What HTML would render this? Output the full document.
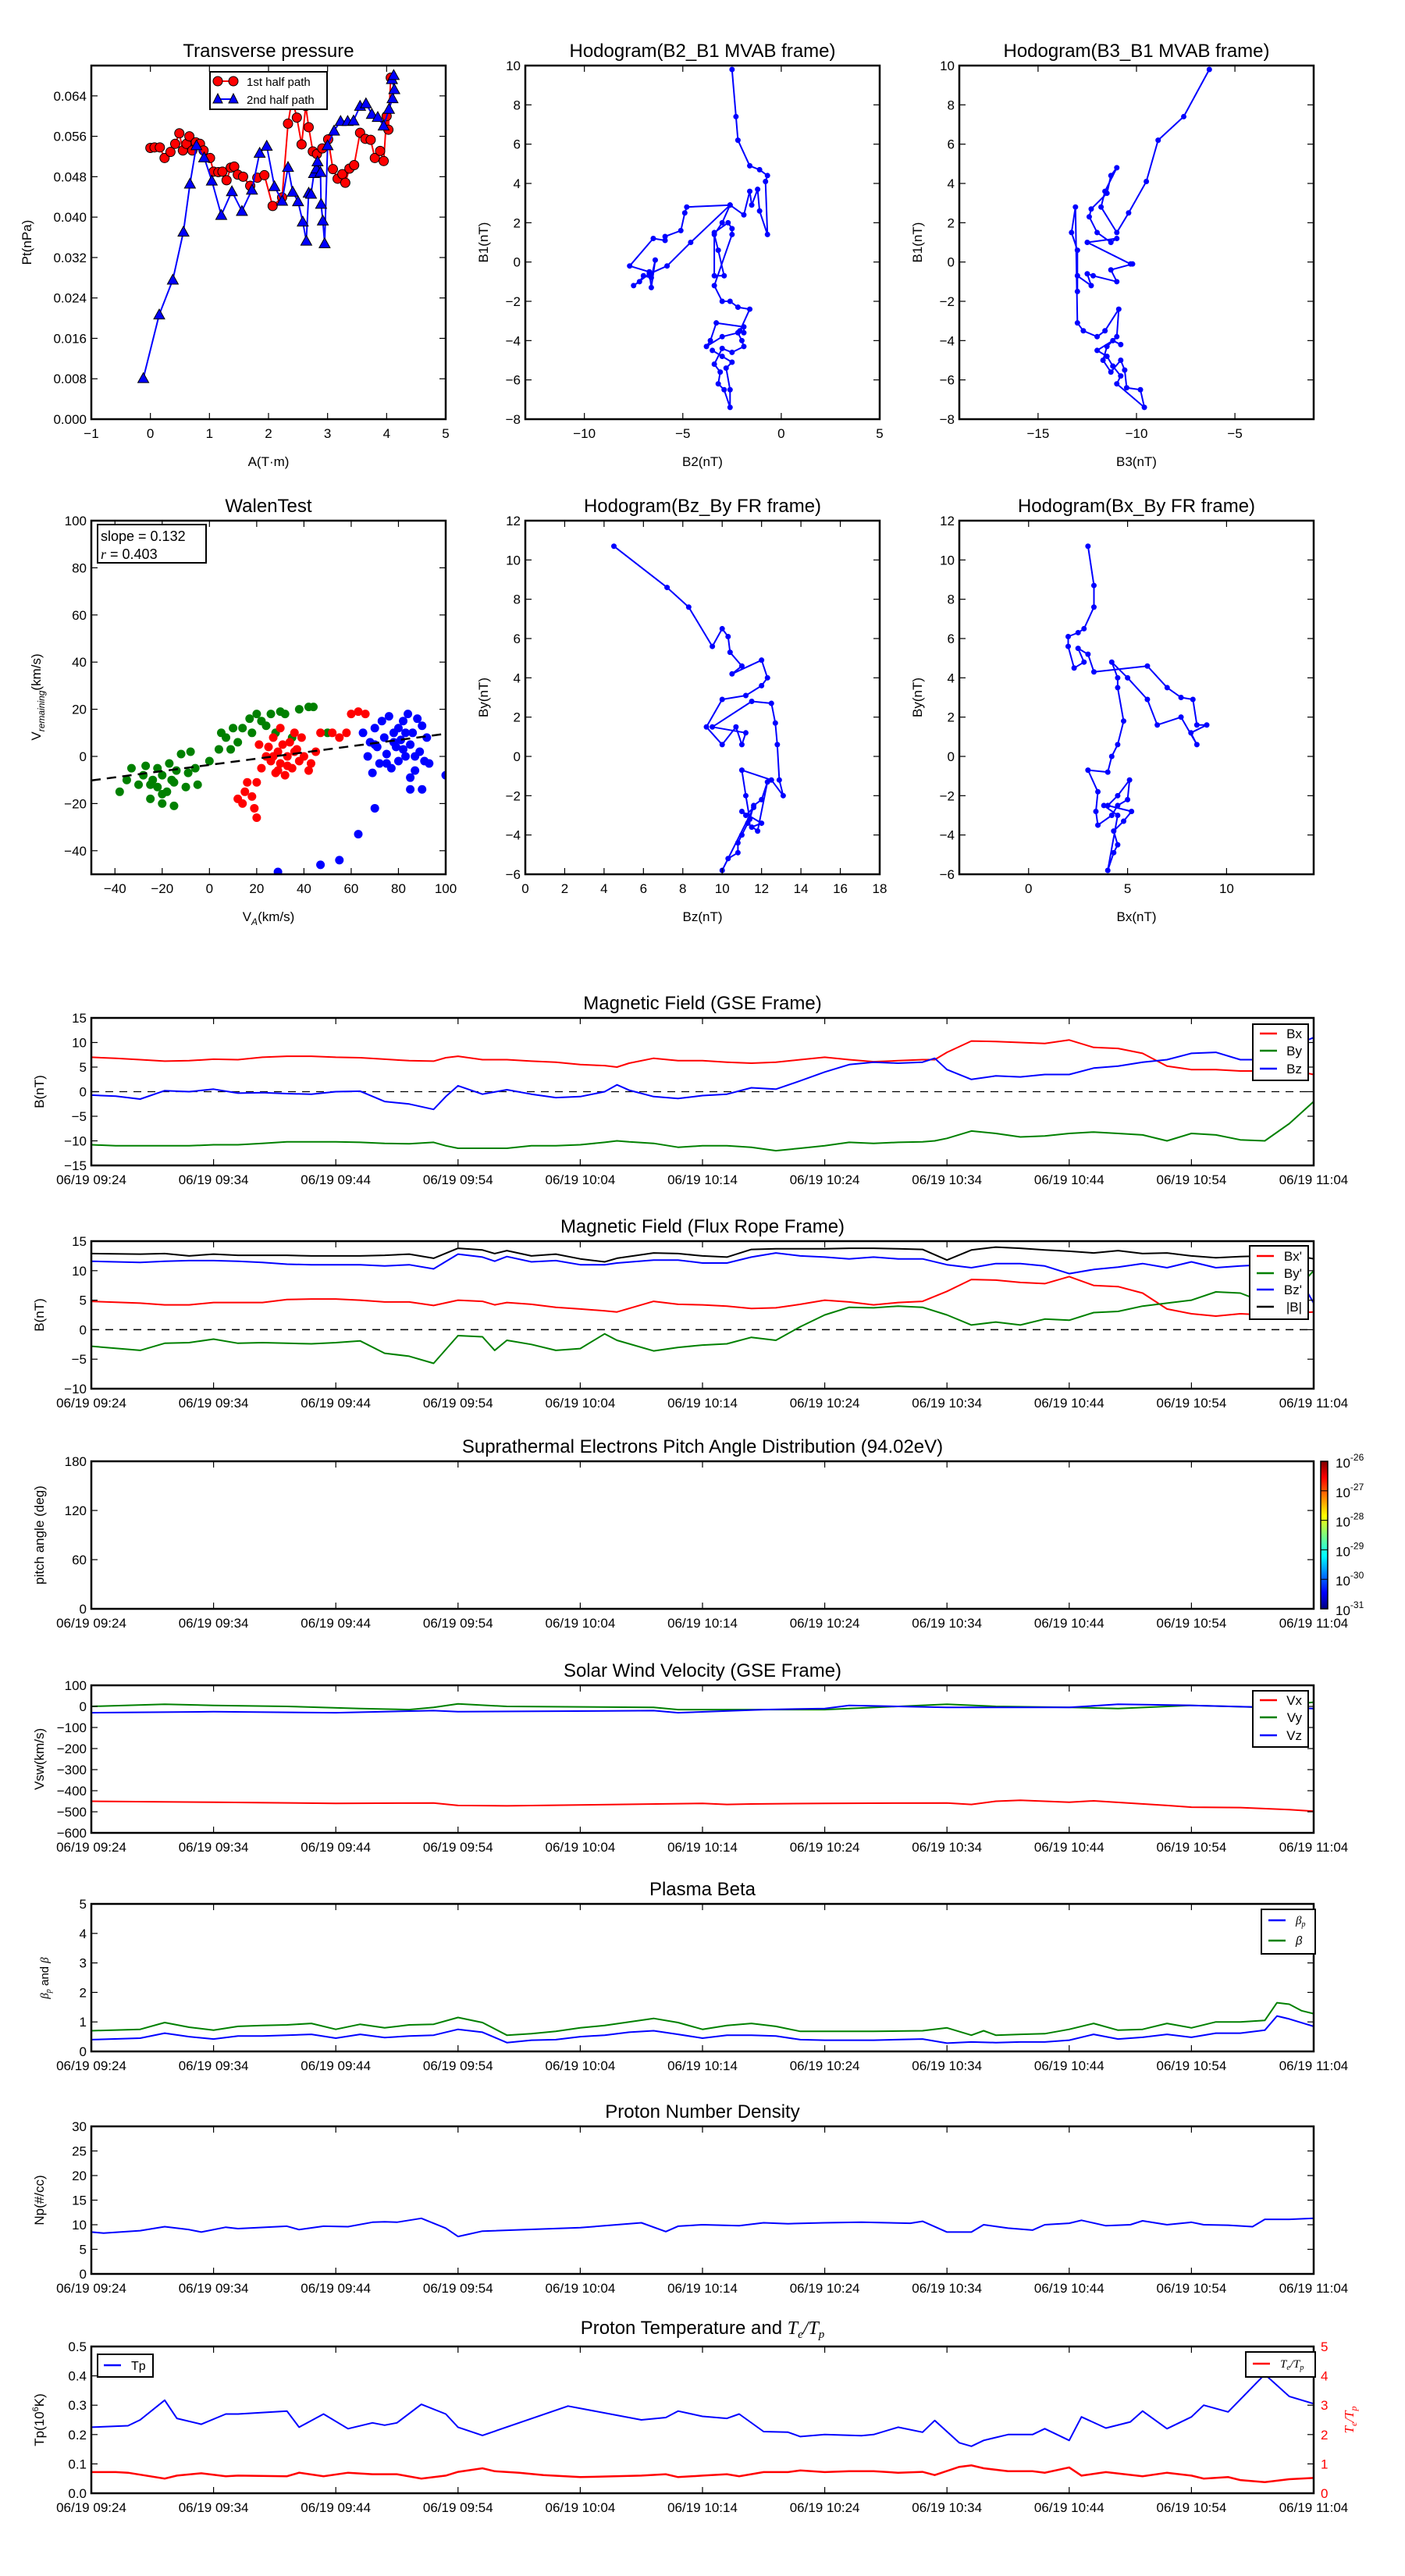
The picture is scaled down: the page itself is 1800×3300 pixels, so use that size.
<!DOCTYPE html>
<html><head><meta charset="utf-8"><title>Flux rope analysis</title>
<style>
html,body{margin:0;padding:0;background:#fff;}
svg{display:block;font-family:"Liberation Sans","DejaVu Sans",sans-serif;}
</style></head>
<body>
<svg id="fig" width="1800" height="3300" viewBox="0 0 1800 3300" xmlns="http://www.w3.org/2000/svg">
<rect x="0" y="0" width="1800" height="3300" fill="#fff"/>
</svg>
<script>
// ---------------- DATA ----------------
const tpRedA=[0,0.07,0.16,0.24,0.34,0.42,0.49,0.55,0.61,0.66,0.71,0.77,0.84,0.9,1.01,1.07,1.15,1.22,1.29,1.36,1.42,1.48,1.57,1.69,1.81,1.93,2.07,2.23,2.33,2.4,2.48,2.56,2.63,2.68,2.75,2.82,2.91,3.01,3.09,3.17,3.25,3.3,3.37,3.45,3.55,3.64,3.73,3.8,3.89,3.95,4.0,4.03,4.07];
const tpRedP=[0.0537,0.0538,0.0538,0.0517,0.0529,0.0545,0.0566,0.0532,0.0545,0.056,0.0532,0.0548,0.0545,0.0532,0.0517,0.049,0.0489,0.049,0.0473,0.0498,0.05,0.0484,0.048,0.0462,0.0478,0.0483,0.0422,0.0439,0.0585,0.0635,0.0597,0.0544,0.062,0.0578,0.053,0.0525,0.0536,0.0554,0.0495,0.0476,0.0485,0.0468,0.0496,0.0503,0.0567,0.0555,0.0553,0.0517,0.0531,0.0511,0.06,0.0573,0.0676];
const tpBlueA=[-0.12,0.15,0.38,0.56,0.67,0.78,0.91,1.04,1.2,1.38,1.55,1.72,1.85,1.97,2.1,2.23,2.33,2.41,2.5,2.58,2.64,2.68,2.72,2.77,2.81,2.83,2.88,2.89,2.92,2.95,3.0,3.11,3.22,3.34,3.44,3.55,3.65,3.75,3.85,3.95,4.04,4.1,4.13,4.09,4.12];
const tpBlueP=[0.0081,0.0207,0.0276,0.0371,0.0466,0.0542,0.0518,0.0472,0.0404,0.0451,0.0412,0.0454,0.0527,0.0541,0.0461,0.0432,0.0499,0.045,0.0431,0.0391,0.0353,0.0448,0.0446,0.0487,0.0496,0.051,0.0489,0.0426,0.0393,0.0348,0.0542,0.0571,0.059,0.059,0.0591,0.062,0.0625,0.0604,0.0598,0.0581,0.0614,0.0635,0.0653,0.0673,0.0681];

const h1B2=[-2.5,-2.3,-2.2,-1.6,-1.1,-0.7,-0.8,-0.7,-1.1,-1.2,-1.5,-1.6,-1.9,-2.6,-4.8,-4.9,-5.1,-5.9,-5.9,-6.5,-7.7,-6.7,-6.6,-6.4,-6.6,-7.0,-7.2,-7.5,-6.7,-5.8,-4.6,-2.6,-3.0,-3.4,-3.2,-2.9,-3.4,-3.4,-2.7,-2.5,-2.5,-3.4,-3.0,-2.6,-2.2,-1.6,-2.1,-1.9,-1.9,-3.3,-3.6,-3.8,-3.0,-2.2,-2.0,-1.9,-2.5,-3.0,-3.4,-3.1,-3.2,-2.9,-2.6,-2.6,-2.8,-2.5,-3.0,-3.5];
const h1B1=[9.8,7.4,6.2,4.9,4.7,4.4,4.1,1.4,2.6,3.7,2.9,3.6,2.4,2.9,2.8,2.5,1.6,1.3,1.1,1.2,-0.2,-0.5,-1.3,0.1,-0.8,-0.7,-1.0,-1.2,-0.6,-0.2,1.0,2.9,2.0,1.4,0.6,-0.7,-0.7,1.5,2.0,1.7,1.4,-1.2,-2.0,-2.0,-2.3,-2.4,-3.5,-3.6,-3.3,-3.1,-4.0,-4.3,-3.8,-3.6,-4.0,-4.3,-4.6,-4.4,-5.2,-5.6,-6.2,-6.5,-7.4,-6.5,-5.4,-5.1,-4.8,-4.5];
const h2B3=[-6.3,-7.6,-8.9,-9.5,-10.4,-11.0,-11.8,-11.6,-11.0,-11.3,-11.5,-12.3,-12.4,-12.0,-11.3,-11.0,-12.5,-10.3,-10.2,-11.3,-11.0,-12.2,-12.5,-12.3,-13.0,-13.0,-13.0,-13.3,-13.1,-13.0,-12.7,-12.0,-11.6,-10.9,-11.0,-11.5,-11.7,-11.3,-10.8,-10.6,-10.5,-9.8,-9.6,-11.0,-10.8,-11.2,-11.5,-12.0,-11.2,-10.8];
const h2B1=[9.8,7.4,6.2,4.1,2.5,1.5,2.8,3.6,4.8,4.4,3.5,2.7,2.3,1.5,1.0,1.2,1.0,-0.1,-0.1,-0.4,-1.0,-0.7,-0.6,-1.2,-0.7,-1.5,0.6,1.5,2.8,-3.1,-3.5,-3.8,-3.5,-2.4,-3.8,-4.3,-5.0,-5.6,-5.0,-5.5,-6.4,-6.5,-7.4,-6.2,-5.8,-5.3,-4.8,-4.5,-4.0,-4.2];

const walenGreenX=[-38,-35,-33,-30,-28,-27,-25,-24,-22,-22,-20,-20,-18,-17,-15,-15,-14,-12,-10,-9,-8,-6,-5,0,4,5,7,9,10,12,14,17,18,20,22,24,26,28,30,32,35,38,42,44,50,-20,-16,-25];
const walenGreenY=[-15,-10,-5,-12,-8,-4,-18,-10,-5,-13,-20,-8,-15,-3,-21,-11,-6,1,-13,-7,2,-5,-12,-2,3,10,8,3,12,6,12,16,10,18,15,13,18,10,19,18,8,20,21,21,10,-16,-10,-12];
const walenRedX=[12,14,15,16,18,19,20,20,21,22,24,25,26,27,28,29,30,30,31,32,33,34,35,36,37,38,39,40,42,43,45,47,52,55,58,60,63,66,33,29,27,36];
const walenRedY=[-18,-20,-15,-11,-17,-22,-26,-11,5,-5,0,4,-2,8,-7,2,12,-3,5,-8,0,6,-5,10,3,-2,8,0,-6,-3,2,10,10,8,10,18,19,18,-4,-6,0,2];
const walenBlueX=[65,67,68,69,70,71,72,73,74,75,76,77,78,79,80,80,81,82,83,84,85,85,86,87,88,89,90,91,92,93,75,78,83,87,100,102,90,85,70,63,55,47,29,70,82];
const walenBlueY=[10,0,6,-7,12,4,-3,15,8,1,17,-5,10,4,-2,12,7,15,0,18,-9,5,10,-6,16,2,13,-2,8,-3,-3,6,10,0,-8,-13,-14,-14,-22,-33,-44,-46,-49,5,3];
const walenSlope=0.132;
const walenIntercept=-3.6;

const frZ=[4.5,7.2,8.3,9.5,10.0,10.3,10.4,11.0,10.5,12.0,12.3,12.0,11.2,10.0,9.2,10.0,10.7,11.0,11.2,9.5,11.5,12.5,12.7,12.8,12.9,13.1,12.5,11.0,11.2,11.4,11.6,12.0,12.3,11.8,11.3,11.0,10.8,10.8,10.3,10.0,11.6,11.2,11.0,12.0,11.5];
const frZY=[10.7,8.6,7.6,5.6,6.5,6.1,5.3,4.6,4.2,4.9,4.0,3.6,3.1,2.9,1.5,0.6,1.5,0.6,1.2,1.5,2.8,2.7,1.7,0.6,-1.2,-2.0,-1.2,-0.7,-2.0,-3.2,-2.5,-2.2,-1.3,-3.8,-3.4,-4.0,-4.4,-4.9,-5.2,-5.8,-2.6,-3.0,-2.8,-3.4,-3.6];
const frX=[3.0,3.3,3.3,2.8,2.5,2.0,2.0,2.3,2.8,2.5,3.0,3.3,6.0,7.0,7.7,8.3,8.5,9.0,8.2,8.5,7.7,6.5,6.0,5.0,4.2,4.5,4.5,4.8,4.5,4.2,4.0,3.0,3.5,3.4,3.5,4.2,4.5,5.0,5.1,4.5,4.0,5.2,4.8,4.3,4.5,4.3,4.0,4.5,3.8];
const frXY=[10.7,8.7,7.6,6.5,6.3,6.1,5.6,4.5,4.8,5.5,5.2,4.3,4.6,3.5,3.0,2.9,1.6,1.6,1.2,0.6,2.0,1.6,2.9,4.0,4.8,4.0,3.5,1.8,0.6,0.0,-0.8,-0.7,-1.8,-2.8,-3.5,-3.0,-2.5,-2.2,-1.2,-2.0,-2.5,-2.8,-3.3,-3.8,-4.5,-4.9,-5.8,-3.0,-2.5];

const timeLabels=["06/19 09:24","06/19 09:34","06/19 09:44","06/19 09:54","06/19 10:04","06/19 10:14","06/19 10:24","06/19 10:34","06/19 10:44","06/19 10:54","06/19 11:04"];
const timeTicks=[0,10,20,30,40,50,60,70,80,90,100];

const gseT=[0,2,4,6,8,10,12,14,16,18,20,22,24,26,28,29,30,32,34,36,38,40,42,43,44,46,48,50,52,54,56,58,60,62,64,66,68,69,70,72,74,76,78,80,82,84,86,88,90,92,94,96,98,100];
const gseBx=[7,6.8,6.5,6.2,6.3,6.6,6.5,7,7.2,7.2,7,6.9,6.6,6.3,6.2,6.9,7.2,6.5,6.5,6.2,6,5.5,5.3,5,5.8,6.8,6.3,6.3,6,5.8,6,6.5,7,6.5,6.1,6.3,6.5,6.5,8,10.3,10.2,10,9.8,10.5,9,8.8,7.8,5.2,4.5,4.5,4.2,4.2,4.5,3.5];
const gseBy=[-10.8,-11,-11,-11,-11,-10.8,-10.8,-10.5,-10.2,-10.2,-10.2,-10.3,-10.5,-10.6,-10.3,-11,-11.5,-11.5,-11.5,-11,-11,-10.8,-10.3,-10,-10.2,-10.5,-11.3,-11,-11,-11.3,-12,-11.5,-11,-10.3,-10.5,-10.3,-10.2,-10,-9.5,-8,-8.5,-9.2,-9,-8.5,-8.2,-8.5,-8.8,-10,-8.5,-8.8,-9.8,-10,-6.5,-2];
const gseBz=[-0.7,-0.9,-1.5,0.2,0,0.5,-0.3,-0.2,-0.4,-0.5,0,0.1,-2,-2.5,-3.6,-1,1.2,-0.5,0.4,-0.5,-1.2,-1,0,1.4,0.3,-1,-1.4,-0.8,-0.5,0.8,0.5,2.2,4,5.5,6,5.8,6,6.8,4.5,2.5,3.2,3,3.5,3.5,4.8,5.2,6,6.5,7.8,8,6.5,6.5,9,11];

const frT=[0,4,6,8,10,12,14,16,18,20,22,24,26,28,30,32,33,34,36,38,40,42,43,46,48,50,52,54,56,58,60,62,64,66,68,70,72,74,76,78,80,82,84,86,88,90,92,94,96,98,100];
const frBx=[4.8,4.5,4.2,4.2,4.6,4.6,4.6,5.1,5.2,5.2,5.0,4.7,4.7,4.1,5.0,4.8,4.2,4.6,4.3,3.8,3.5,3.2,3.0,4.8,4.3,4.2,4.0,3.6,3.7,4.3,5.0,4.7,4.2,4.6,4.8,6.5,8.5,8.4,8.0,7.8,9.0,7.5,7.3,6.2,3.5,2.7,2.3,2.7,2.5,2.8,3.0];
const frBy=[-2.8,-3.5,-2.3,-2.2,-1.6,-2.3,-2.2,-2.3,-2.4,-2.2,-1.9,-4.0,-4.5,-5.7,-1.0,-1.2,-3.5,-1.8,-2.5,-3.5,-3.2,-0.7,-1.8,-3.6,-3.0,-2.6,-2.4,-1.3,-1.8,0.5,2.5,3.8,3.7,4.0,3.8,2.5,0.8,1.3,0.8,1.8,1.6,2.9,3.1,4.0,4.5,5.0,6.4,6.2,4.6,5.5,10];
const frBz=[11.6,11.4,11.6,11.7,11.7,11.6,11.4,11.1,11.0,11.0,11.0,10.8,11.0,10.3,12.8,12.3,11.6,12.4,11.5,11.7,11.0,11.0,11.3,11.8,11.8,11.3,11.3,12.3,13.0,12.5,12.3,12.0,12.3,12.0,12.0,11.0,10.5,11.2,11.2,10.8,9.5,10.2,10.6,11.2,10.5,11.5,10.5,10.8,11.0,11.8,4.5];
const frBt=[12.9,12.8,12.9,12.5,12.8,12.6,12.6,12.6,12.5,12.5,12.5,12.6,12.8,12.1,13.8,13.5,12.9,13.4,12.5,12.8,12.0,11.5,12.1,13.0,12.9,12.5,12.3,13.6,13.7,13.7,13.7,13.8,13.8,13.7,13.6,11.8,13.5,14.0,13.8,13.5,13.3,13.0,13.4,12.9,13.0,12.5,12.2,12.4,12.5,12.8,12.0];

const swVxT=[0,10,20,28,30,34,50,52,54,60,70,72,74,76,80,82,88,90,94,98,100];
const swVx=[-450,-455,-460,-458,-470,-472,-460,-465,-463,-460,-458,-465,-450,-445,-455,-448,-470,-478,-480,-490,-497];
const swVyT=[0,6,10,16,22,26,28,30,34,46,48,60,70,74,80,84,90,96,100];
const swVy=[0,10,5,0,-10,-15,-5,12,0,-5,-15,-15,10,0,-5,-10,5,-5,20];
const swVzT=[0,10,20,28,30,46,48,55,60,62,70,80,84,90,100];
const swVz=[-30,-25,-30,-20,-25,-20,-30,-15,-10,5,-5,-5,10,5,-10];

const betaPT=[0,4,6,8,10,12,14,16,18,20,22,24,26,28,30,32,34,36,38,40,42,44,46,48,50,52,54,56,58,60,64,68,70,72,74,76,78,80,82,84,86,88,90,92,94,96,97,98,100];
const betaP=[0.4,0.45,0.62,0.5,0.42,0.52,0.52,0.55,0.58,0.45,0.58,0.47,0.52,0.55,0.75,0.65,0.3,0.38,0.4,0.5,0.55,0.65,0.7,0.58,0.45,0.55,0.55,0.52,0.4,0.38,0.38,0.42,0.28,0.32,0.3,0.32,0.32,0.38,0.58,0.42,0.48,0.58,0.48,0.62,0.62,0.72,1.2,1.1,0.85];
const betaT=[0,4,6,8,10,12,14,16,18,20,22,24,26,28,30,32,34,36,38,40,42,44,46,48,50,52,54,56,58,60,64,68,70,72,73,74,76,78,80,82,84,86,88,90,92,94,96,97,98,99,100];
const betaAll=[0.7,0.75,0.98,0.82,0.72,0.85,0.88,0.9,0.95,0.75,0.92,0.8,0.9,0.92,1.15,0.98,0.55,0.6,0.68,0.8,0.88,1.0,1.12,0.98,0.75,0.88,0.95,0.85,0.68,0.68,0.68,0.7,0.8,0.55,0.7,0.55,0.58,0.6,0.75,0.95,0.72,0.75,0.95,0.8,1.0,1.0,1.05,1.65,1.6,1.38,1.28];

const npT=[0,1,4,6,8,9,11,12,16,17,19,21,23,24,25,27,29,30,32,40,45,47,48,50,53,55,57,60,63,67,68,70,72,73,75,77,78,80,81,83,85,86,88,90,91,93,95,96,98,100];
const np=[8.5,8.3,8.8,9.6,9.0,8.5,9.5,9.2,9.7,9.0,9.7,9.6,10.5,10.6,10.5,11.3,9.3,7.6,8.7,9.4,10.4,8.6,9.7,10.0,9.8,10.4,10.2,10.4,10.5,10.3,10.7,8.5,8.5,10.0,9.3,8.9,10.0,10.3,10.9,9.8,10.0,10.8,10.0,10.5,10.0,9.9,9.6,11.1,11.1,11.3];

const tpT=[0,3,4,6,7,9,11,12,16,17,19,21,23,24,25,27,29,30,32,39,45,47,48,50,52,53,55,57,58,60,63,64,66,68,69,71,72,73,75,77,78,80,81,83,85,86,88,90,91,93,96,98,100];
const tp=[0.225,0.23,0.25,0.317,0.255,0.235,0.27,0.27,0.28,0.225,0.27,0.22,0.24,0.232,0.24,0.303,0.27,0.225,0.197,0.297,0.25,0.258,0.28,0.262,0.255,0.27,0.21,0.208,0.193,0.2,0.196,0.2,0.225,0.208,0.248,0.172,0.16,0.18,0.2,0.2,0.22,0.18,0.26,0.222,0.243,0.28,0.22,0.26,0.3,0.277,0.405,0.33,0.305];
const teT=[0,2,3,6,7,9,11,12,16,17,19,21,23,25,27,29,30,32,33,35,37,40,45,47,48,50,52,53,55,57,58,60,62,64,66,68,69,71,72,73,75,77,78,80,81,83,86,88,90,91,93,94,96,98,100];
const teRatio=[0.72,0.72,0.7,0.5,0.6,0.68,0.58,0.6,0.58,0.7,0.58,0.7,0.65,0.65,0.5,0.6,0.73,0.85,0.75,0.7,0.62,0.55,0.6,0.65,0.55,0.6,0.65,0.58,0.72,0.72,0.78,0.72,0.75,0.75,0.7,0.73,0.62,0.9,0.95,0.85,0.75,0.75,0.7,0.88,0.6,0.72,0.58,0.7,0.6,0.5,0.55,0.45,0.38,0.48,0.52];

const cbLabels=["-26","-27","-28","-29","-30","-31"];

// ---------------- HELPERS ----------------
const NS='http://www.w3.org/2000/svg';
const fig=document.getElementById('fig');
let clipN=0;
function mk(tag,attrs,parent,name){
  const el=document.createElementNS(NS,tag);
  for(const k in attrs) el.setAttribute(k,attrs[k]);
  
  
  (parent||fig).appendChild(el);
  return el;
}
function txt(parent,x,y,s,size,anchor,name,fill){
  const t=mk('text',{x:x,y:y,'font-size':size,'text-anchor':anchor||'start',fill:fill||'#000'},parent,name);
  t.textContent=s;
  return t;
}
function fmt(v,d){return (v<0?'\u2212':'')+Math.abs(v).toFixed(d);}

function axes(o){
  const g=mk('g',{},fig,o.name);
  const sx=v=>o.x0+(v-o.xmin)/(o.xmax-o.xmin)*(o.x1-o.x0);
  const sy=v=>o.y1-(v-o.ymin)/(o.ymax-o.ymin)*(o.y1-o.y0);
  clipN++;
  const cp=mk('clipPath',{id:'cp'+clipN},g,'clip-region');
  mk('rect',{x:o.x0,y:o.y0,width:o.x1-o.x0,height:o.y1-o.y0},cp,'clip-rect');
  const data=mk('g',{'clip-path':'url(#cp'+clipN+')'},g,'plot-area');
  const tk=8;
  o.xticks.forEach((v,i)=>{
    const x=sx(v);
    mk('line',{x1:x,x2:x,y1:o.y1,y2:o.y1-tk,stroke:'#000','stroke-width':1.2},g,'x-tick');
    mk('line',{x1:x,x2:x,y1:o.y0,y2:o.y0+tk,stroke:'#000','stroke-width':1.2},g,'x-tick-top');
    txt(g,x,o.y1+(o.xlabOff||24),o.xlabels[i],17,'middle','x-tick-label');
  });
  o.yticks.forEach((v,i)=>{
    const y=sy(v);
    mk('line',{x1:o.x0,x2:o.x0+tk,y1:y,y2:y,stroke:'#000','stroke-width':1.2},g,'y-tick');
    if(!o.noRightTicks) mk('line',{x1:o.x1,x2:o.x1-tk,y1:y,y2:y,stroke:'#000','stroke-width':1.2},g,'y-tick-right');
    txt(g,o.x0-6,y+6,o.ylabels[i],17,'end','y-tick-label');
  });
  if(o.title){const t=txt(g,(o.x0+o.x1)/2,o.y0-11,o.title,24,'middle','chart-title');o.titleEl=t;}
  if(o.xlabel) txt(g,(o.x0+o.x1)/2,o.y1+60,o.xlabel,17,'middle','x-axis-title');
  if(o.ylabel){const yl=txt(g,0,0,o.ylabel,17,'middle','y-axis-title');yl.setAttribute('transform','translate('+o.ylx+','+((o.y0+o.y1)/2)+') rotate(-90)');o.ylEl=yl;}
  const frame=mk('rect',{x:o.x0,y:o.y0,width:o.x1-o.x0,height:o.y1-o.y0,fill:'none',stroke:'#000','stroke-width':2.5},g,'axes-frame');
  return {g,data,sx,sy,frame,o};
}
function line(ax,xs,ys,color,w,name,dash){
  const n=Math.min(xs.length,ys.length);
  let d='';
  for(let i=0;i<n;i++) d+=(i?'L':'M')+ax.sx(xs[i]).toFixed(1)+','+ax.sy(ys[i]).toFixed(1);
  const attrs={d:d,fill:'none',stroke:color,'stroke-width':w||2,'stroke-linejoin':'round'};
  if(dash) attrs['stroke-dasharray']=dash;
  return mk('path',attrs,ax.data,name);
}
function dots(ax,xs,ys,color,r,name,stroke){
  const n=Math.min(xs.length,ys.length);
  for(let i=0;i<n;i++){
    const c=mk('circle',{cx:ax.sx(xs[i]),cy:ax.sy(ys[i]),r:r,fill:color},ax.data,name);
    if(stroke){c.setAttribute('stroke',stroke);c.setAttribute('stroke-width',1);}
  }
}
function tris(ax,xs,ys,color,r,name){
  const n=Math.min(xs.length,ys.length);
  for(let i=0;i<n;i++){
    const x=ax.sx(xs[i]),y=ax.sy(ys[i]);
    mk('polygon',{points:(x)+','+(y-r)+' '+(x-r)+','+(y+r*0.8)+' '+(x+r)+','+(y+r*0.8),fill:color,stroke:'#000','stroke-width':1},ax.data,name);
  }
}
function legend(parent,x,y,w,h,items,name){
  const g=mk('g',{},parent,name);
  mk('rect',{x:x,y:y,width:w,height:h,fill:'#fff',stroke:'#000','stroke-width':2},g,'legend-box');
  items.forEach(it=>{
    const eg=mk('g',{},g,'legend-entry');
    mk('line',{x1:x+9,x2:x+31,y1:it.y,y2:it.y,stroke:it.c,'stroke-width':2.5},eg,'legend-swatch');
    const t=txt(eg,x+w-8,it.y+6,it.t,17,'end','legend-label');
    if(it.html){t.textContent='';it.html(t);}
  });
  return g;
}
function range(a,b,s){const r=[];for(let v=a;v<=b+1e-9;v+=s)r.push(+v.toFixed(6));return r;}

// ---------------- TOP ROW ----------------
const tpTicksY=range(0,0.064,0.008);
const axTP=axes({name:'transverse-pressure-chart',x0:117,x1:571,y0:84,y1:537,xmin:-1,xmax:5,ymin:0,ymax:0.07,
 xticks:range(-1,5,1),xlabels:range(-1,5,1).map(v=>fmt(v,0)),yticks:tpTicksY,ylabels:tpTicksY.map(v=>v.toFixed(3)),
 title:'Transverse pressure',xlabel:'A(T\u00b7m)',ylabel:'Pt(nPa)',ylx:40});
line(axTP,tpRedA,tpRedP,'#ff0000',2,'first-half-line');
dots(axTP,tpRedA,tpRedP,'#ff0000',6,'first-half-marker','#000');
line(axTP,tpBlueA,tpBlueP,'#0000ff',2,'second-half-line');
tris(axTP,tpBlueA,tpBlueP,'#0000ff',7,'second-half-marker');
axTP.g.appendChild(axTP.frame);
(function(){
  const g=mk('g',{},axTP.g,'pressure-legend');
  mk('rect',{x:269,y:92,width:150,height:48,fill:'#fff',stroke:'#000','stroke-width':2},g,'legend-box');
  const e1=mk('g',{},g,'legend-entry');
  mk('line',{x1:279,x2:299,y1:104,y2:104,stroke:'#ff0000','stroke-width':2},e1,'legend-swatch');
  mk('circle',{cx:279,cy:104,r:6,fill:'#ff0000',stroke:'#000'},e1,'legend-marker');
  mk('circle',{cx:299,cy:104,r:6,fill:'#ff0000',stroke:'#000'},e1,'legend-marker');
  txt(e1,316,110,'1st half path',15,'start','legend-label');
  const e2=mk('g',{},g,'legend-entry');
  mk('line',{x1:279,x2:299,y1:127,y2:127,stroke:'#0000ff','stroke-width':2},e2,'legend-swatch');
  mk('polygon',{points:'279,120 273,132 285,132',fill:'#0000ff',stroke:'#000'},e2,'legend-marker');
  mk('polygon',{points:'299,120 293,132 305,132',fill:'#0000ff',stroke:'#000'},e2,'legend-marker');
  txt(e2,316,133,'2nd half path',15,'start','legend-label');
})();

const axH1=axes({name:'hodogram-b2-b1-chart',x0:673,x1:1127,y0:84,y1:537,xmin:-13,xmax:5,ymin:-8,ymax:10,
 xticks:[-10,-5,0,5],xlabels:['\u221210','\u22125','0','5'],yticks:range(-8,10,2),ylabels:range(-8,10,2).map(v=>fmt(v,0)),
 title:'Hodogram(B2_B1 MVAB frame)',xlabel:'B2(nT)',ylabel:'B1(nT)',ylx:625});
line(axH1,h1B2,h1B1,'#0000ff',2,'hodogram-path');
dots(axH1,h1B2,h1B1,'#0000ff',3.5,'hodogram-point');
axH1.g.appendChild(axH1.frame);

const axH2=axes({name:'hodogram-b3-b1-chart',x0:1229,x1:1683,y0:84,y1:537,xmin:-19,xmax:-1,ymin:-8,ymax:10,
 xticks:[-15,-10,-5],xlabels:['\u221215','\u221210','\u22125'],yticks:range(-8,10,2),ylabels:range(-8,10,2).map(v=>fmt(v,0)),
 title:'Hodogram(B3_B1 MVAB frame)',xlabel:'B3(nT)',ylabel:'B1(nT)',ylx:1181});
line(axH2,h2B3,h2B1,'#0000ff',2,'hodogram-path');
dots(axH2,h2B3,h2B1,'#0000ff',3.5,'hodogram-point');
axH2.g.appendChild(axH2.frame);

// ---------------- SECOND ROW ----------------
const axW=axes({name:'walen-test-chart',x0:117,x1:571,y0:667,y1:1120,xmin:-50,xmax:100,ymin:-50,ymax:100,
 xticks:range(-40,100,20),xlabels:range(-40,100,20).map(v=>fmt(v,0)),yticks:range(-40,100,20),ylabels:range(-40,100,20).map(v=>fmt(v,0)),
 title:'WalenTest',xlabel:'',ylabel:'',ylx:48});
dots(axW,walenGreenX,walenGreenY,'#008000',5.5,'walen-point-green');
dots(axW,walenRedX,walenRedY,'#ff0000',5.5,'walen-point-red');
dots(axW,walenBlueX,walenBlueY,'#0000ff',5.5,'walen-point-blue');
line(axW,[-50,100],[-50*walenSlope+walenIntercept,100*walenSlope+walenIntercept],'#000',2.5,'walen-fit-line','12,8');
axW.g.appendChild(axW.frame);
(function(){
  const t=txt(axW.g,344,1180,'',17,'middle','x-axis-title');
  t.innerHTML='V<tspan font-style="italic" font-size="12" dy="5">A</tspan><tspan dy="-5">(km/s)</tspan>';
  const yl=txt(axW.g,0,0,'',17,'middle','y-axis-title');
  yl.innerHTML='V<tspan font-style="italic" font-size="12" dy="5">remaining</tspan><tspan dy="-5">(km/s)</tspan>';
  yl.setAttribute('transform','translate(52,893) rotate(-90)');
  const bg=mk('g',{},axW.g,'walen-stats-box');
  mk('rect',{x:125,y:672,width:139,height:49,fill:'#fff',stroke:'#000','stroke-width':2},bg,'stats-box-frame');
  txt(bg,129,693,'slope = 0.132',18,'start','slope-text');
  const r=txt(bg,129,716,'',18,'start','r-text');
  r.innerHTML='<tspan font-style="italic" font-family="Liberation Serif">r</tspan> = 0.403';
})();

const axFZ=axes({name:'hodogram-bz-by-chart',x0:673,x1:1127,y0:667,y1:1120,xmin:0,xmax:18,ymin:-6,ymax:12,
 xticks:range(0,18,2),xlabels:range(0,18,2).map(v=>fmt(v,0)),yticks:range(-6,12,2),ylabels:range(-6,12,2).map(v=>fmt(v,0)),
 title:'Hodogram(Bz_By FR frame)',xlabel:'Bz(nT)',ylabel:'By(nT)',ylx:625});
line(axFZ,frZ,frZY,'#0000ff',2,'hodogram-path');
dots(axFZ,frZ,frZY,'#0000ff',3.5,'hodogram-point');
axFZ.g.appendChild(axFZ.frame);

const axFX=axes({name:'hodogram-bx-by-chart',x0:1229,x1:1683,y0:667,y1:1120,xmin:-3.5,xmax:14.4,ymin:-6,ymax:12,
 xticks:[0,5,10],xlabels:['0','5','10'],yticks:range(-6,12,2),ylabels:range(-6,12,2).map(v=>fmt(v,0)),
 title:'Hodogram(Bx_By FR frame)',xlabel:'Bx(nT)',ylabel:'By(nT)',ylx:1181});
line(axFX,frX,frXY,'#0000ff',2,'hodogram-path');
dots(axFX,frX,frXY,'#0000ff',3.5,'hodogram-point');
axFX.g.appendChild(axFX.frame);

// ---------------- TIME SERIES ----------------
function tsAxes(name,y0,y1,ymin,ymax,yt,yl,title,ylabel,opts){
  opts=opts||{};
  return axes(Object.assign({name:name,x0:117,x1:1683,y0:y0,y1:y1,xmin:0,xmax:100,ymin:ymin,ymax:ymax,
   xticks:timeTicks,xlabels:timeLabels,yticks:yt,ylabels:yl,title:title,ylabel:ylabel,ylx:56},opts));
}
const axG=tsAxes('gse-magnetic-field-chart',1304,1493,-15,15,range(-15,15,5),range(-15,15,5).map(v=>fmt(v,0)),'Magnetic Field (GSE Frame)','B(nT)');
line(axG,[0,100],[0,0],'#000',1.2,'zero-line','10,8');
line(axG,gseT,gseBx,'#ff0000',2,'bx-line');
line(axG,gseT,gseBy,'#008000',2,'by-line');
line(axG,gseT,gseBz,'#0000ff',2,'bz-line');
axG.g.appendChild(axG.frame);
legend(axG.g,1605,1312,71,72,[{t:'Bx',c:'#ff0000',y:1324},{t:'By',c:'#008000',y:1346},{t:'Bz',c:'#0000ff',y:1369}],'gse-legend');

const axF=tsAxes('flux-rope-magnetic-field-chart',1590,1779,-10,15,range(-10,15,5),range(-10,15,5).map(v=>fmt(v,0)),'Magnetic Field (Flux Rope Frame)','B(nT)');
line(axF,[0,100],[0,0],'#000',1.5,'zero-line','10,8');
line(axF,frT,frBx,'#ff0000',2,'bx-prime-line');
line(axF,frT,frBy,'#008000',2,'by-prime-line');
line(axF,frT,frBz,'#0000ff',2,'bz-prime-line');
line(axF,frT,frBt,'#000000',2,'b-magnitude-line');
axF.g.appendChild(axF.frame);
legend(axF.g,1601,1596,75,94,[{t:"Bx'",c:'#ff0000',y:1609},{t:"By'",c:'#008000',y:1631},{t:"Bz'",c:'#0000ff',y:1652},{t:'|B|',c:'#000',y:1674}],'flux-rope-legend');

const axP=tsAxes('pitch-angle-chart',1872,2061,0,180,[0,60,120,180],['0','60','120','180'],'Suprathermal Electrons Pitch Angle Distribution (94.02eV)','pitch angle (deg)');
(function(){
  const g=mk('g',{},fig,'colorbar');
  const defs=mk('defs',{},g,'colorbar-defs');
  const lg=mk('linearGradient',{id:'jet',x1:0,y1:1,x2:0,y2:0},defs,'jet-gradient');
  [['0','#00007f'],['0.11','#0000ff'],['0.36','#00ffff'],['0.5','#7fff7f'],['0.63','#ffff00'],['0.89','#ff0000'],['1','#7f0000']].forEach(s=>{
    mk('stop',{offset:s[0],'stop-color':s[1]},lg,'gradient-stop');
  });
  mk('rect',{x:1692,y:1872,width:9,height:189,fill:'url(#jet)',stroke:'#000','stroke-width':1.5},g,'colorbar-bar');
  cbLabels.forEach((s,i)=>{
    const y=1872+i*189/5;
    mk('line',{x1:1692,x2:1701,y1:y,y2:y,stroke:'#000','stroke-width':1},g,'colorbar-tick');
    const t=txt(g,1711,y+8,'',17,'start','colorbar-label');
    t.innerHTML='10<tspan font-size="12" dy="-9">'+s+'</tspan>';
  });
})();

const axS=tsAxes('solar-wind-velocity-chart',2159,2348,-600,100,range(-600,100,100),range(-600,100,100).map(v=>fmt(v,0)),'Solar Wind Velocity (GSE Frame)','Vsw(km/s)');
line(axS,swVxT,swVx,'#ff0000',2,'vx-line');
line(axS,swVyT,swVy,'#008000',2,'vy-line');
line(axS,swVzT,swVz,'#0000ff',2,'vz-line');
axS.g.appendChild(axS.frame);
legend(axS.g,1605,2166,71,72,[{t:'Vx',c:'#ff0000',y:2178},{t:'Vy',c:'#008000',y:2200},{t:'Vz',c:'#0000ff',y:2223}],'velocity-legend');

const axB=tsAxes('plasma-beta-chart',2439,2628,0,5,range(0,5,1),range(0,5,1).map(v=>fmt(v,0)),'Plasma Beta','');
line(axB,betaPT,betaP,'#0000ff',2,'beta-p-line');
line(axB,betaT,betaAll,'#008000',2,'beta-line');
axB.g.appendChild(axB.frame);
(function(){
  const yl=txt(axB.g,0,0,'',15,'middle','y-axis-title');
  yl.innerHTML='<tspan font-style="italic" font-family="Liberation Serif">\u03b2<tspan font-size="10" dy="3">p</tspan></tspan><tspan dy="-3"> and </tspan><tspan font-style="italic" font-family="Liberation Serif">\u03b2</tspan>';
  yl.setAttribute('transform','translate(62,2534) rotate(-90)');
  const g=mk('g',{},axB.g,'beta-legend');
  mk('rect',{x:1616,y:2446,width:69,height:57,fill:'#fff',stroke:'#000','stroke-width':2},g,'legend-box');
  const e1=mk('g',{},g,'legend-entry');
  mk('line',{x1:1625,x2:1647,y1:2460,y2:2460,stroke:'#0000ff','stroke-width':2.5},e1,'legend-swatch');
  const t1=txt(e1,1660,2465,'',15,'start','legend-label');
  t1.innerHTML='<tspan font-style="italic" font-family="Liberation Serif">\u03b2<tspan font-size="10" dy="3">p</tspan></tspan>';
  const e2=mk('g',{},g,'legend-entry');
  mk('line',{x1:1625,x2:1647,y1:2486,y2:2486,stroke:'#008000','stroke-width':2.5},e2,'legend-swatch');
  const t2=txt(e2,1660,2491,'\u03b2',15,'start','legend-label');
  t2.setAttribute('font-style','italic');
})();

const axN=tsAxes('proton-density-chart',2724,2913,0,30,range(0,30,5),range(0,30,5).map(v=>fmt(v,0)),'Proton Number Density','Np(#/cc)');
line(axN,npT,np,'#0000ff',2,'density-line');
axN.g.appendChild(axN.frame);

const axT=tsAxes('proton-temperature-chart',3006,3194,0,0.5,range(0,0.5,0.1),range(0,0.5,0.1).map(v=>v.toFixed(1)),'','',{noRightTicks:true});
line(axT,tpT,tp,'#0000ff',2,'tp-line');
const teScale=v=>3194-v/5*(3194-3006);
(function(){
  let d='';
  const n=Math.min(teT.length,teRatio.length);
  for(let i=0;i<n;i++) d+=(i?'L':'M')+axT.sx(teT[i]).toFixed(1)+','+teScale(teRatio[i]).toFixed(1);
  mk('path',{d:d,fill:'none',stroke:'#ff0000','stroke-width':2.5},axT.data,'te-tp-line');
  axT.g.appendChild(axT.frame);
  for(let v=0;v<=5;v++){
    const y=teScale(v);
    mk('line',{x1:1683,x2:1675,y1:y,y2:y,stroke:'#000','stroke-width':1.2},axT.g,'right-y-tick');
    txt(axT.g,1692,y+6,String(v),17,'start','right-y-tick-label','#ff0000');
  }
  const t=txt(axT.g,900,2990,'',24,'middle','chart-title');
  t.innerHTML='Proton Temperature and <tspan font-family="Liberation Serif" font-style="italic">T<tspan font-size="15" dy="5">e</tspan><tspan dy="-5">/T</tspan><tspan font-size="15" dy="5">p</tspan></tspan>';
  const yl=txt(axT.g,0,0,'',17,'middle','y-axis-title');
  yl.innerHTML='Tp(10<tspan font-size="11" dy="-7">6</tspan><tspan dy="7">K)</tspan>';
  yl.setAttribute('transform','translate(56,3100) rotate(-90)');
  const yr=txt(axT.g,0,0,'',17,'middle','right-y-axis-title','#ff0000');
  yr.innerHTML='<tspan font-family="Liberation Serif" font-style="italic">T<tspan font-size="12" dy="4">e</tspan><tspan dy="-4">/T</tspan><tspan font-size="12" dy="4">p</tspan></tspan>';
  yr.setAttribute('transform','translate(1734,3100) rotate(-90)');
  const g1=mk('g',{},axT.g,'tp-legend');
  mk('rect',{x:125,y:3016,width:71,height:29,fill:'#fff',stroke:'#000','stroke-width':2},g1,'legend-box');
  mk('line',{x1:133,x2:155,y1:3030,y2:3030,stroke:'#0000ff','stroke-width':2.5},g1,'legend-swatch');
  txt(g1,168,3036,'Tp',16,'start','legend-label');
  const g2=mk('g',{},axT.g,'te-tp-legend');
  mk('rect',{x:1596,y:3013,width:89,height:32,fill:'#fff',stroke:'#000','stroke-width':2},g2,'legend-box');
  mk('line',{x1:1605,x2:1627,y1:3028,y2:3028,stroke:'#ff0000','stroke-width':2.5},g2,'legend-swatch');
  const lt=txt(g2,1640,3033,'',15,'start','legend-label');
  lt.innerHTML='<tspan font-family="Liberation Serif" font-style="italic">T<tspan font-size="10" dy="3">e</tspan><tspan dy="-3">/T</tspan><tspan font-size="10" dy="3">p</tspan></tspan>';
})();
</script>
</body></html>
